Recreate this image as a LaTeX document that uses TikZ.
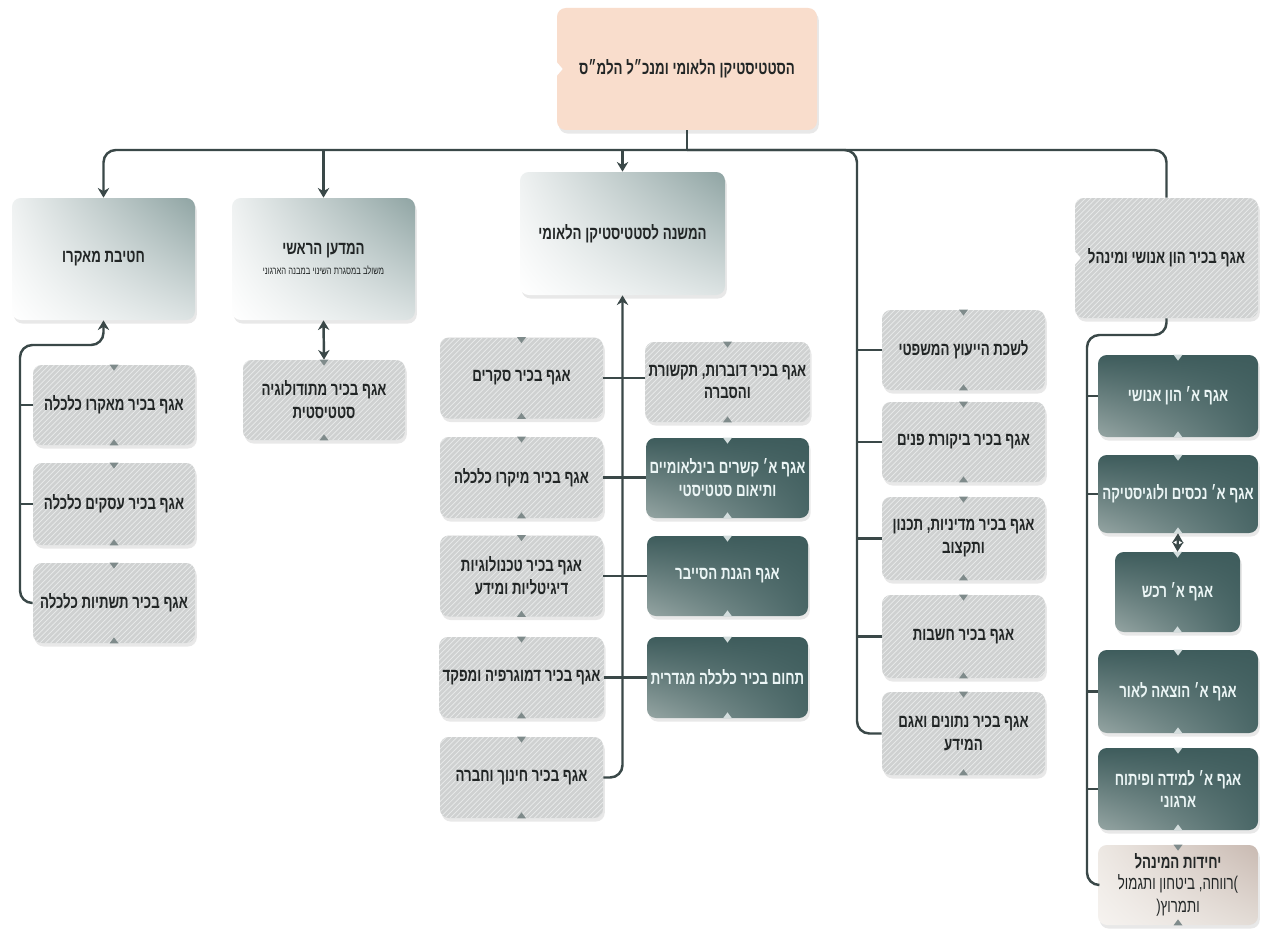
\documentclass[tikz,border=0pt]{standalone}
\usepackage{fontspec}
\usetikzlibrary{shadows,patterns,shadings,calc,arrows.meta}
\TeXXeTstate=1
\newfontfamily\hebf[Script=Hebrew,FakeStretch=0.72]{Liberation Sans}
\newcommand\heR[1]{\beginR#1\endR}
\newcommand\heM[1]{{\mdseries\beginR#1\endR}}
\definecolor{peach}{HTML}{F9DDCC}
\definecolor{boxgray}{HTML}{CFD1D1}
\definecolor{hatch}{HTML}{E9EBEB}
\definecolor{tealdk}{HTML}{3E5C5C}
\definecolor{tealmd}{HTML}{4A6767}
\definecolor{teallt}{HTML}{95A5A3}
\definecolor{conncol}{HTML}{3A4848}
\definecolor{txt}{HTML}{222626}
\definecolor{lvlA}{HTML}{EEF1F1}
\definecolor{lvlB}{HTML}{8FA4A3}
\definecolor{lvlC}{HTML}{DCE3E3}
\definecolor{lvlD}{HTML}{FFFFFF}
\definecolor{begA}{HTML}{EDE8E3}
\definecolor{begB}{HTML}{C9BAB2}
\definecolor{begC}{HTML}{E3DCD6}
\definecolor{begD}{HTML}{F6F3F0}
\definecolor{notchg}{HTML}{7F8B8B}
\definecolor{notchl}{HTML}{D3DDDD}
\tikzset{
  sz/.style 2 args={minimum width=#1*0.02cm, minimum height=#2*0.02cm},
  base/.style={rounded corners=5pt, align=center, inner sep=2pt, text=txt,
    font=\hebf\bfseries\fontsize{10.5}{13}\selectfont,
    drop shadow={opacity=0.18, shadow xshift=1pt, shadow yshift=-2pt}},
  topbox/.style={base, fill=peach},
  lvlbox/.style={base, shade, upper left=lvlA, upper right=lvlB, lower left=lvlD, lower right=lvlC},
  graybox/.style={base, fill=boxgray, postaction={pattern=north east lines, pattern color=hatch}},
  darkbox/.style={base, text=white!92!teal, shade, upper left=tealdk, upper right=tealdk, lower right=tealmd, lower left=teallt},
  beigebox/.style={base, shade, upper left=begA, upper right=begB, lower left=begD, lower right=begC},
  conn/.style={draw=conncol, line width=1.4pt, rounded corners=7pt},
  tipa/.tip={Stealth[length=5.5pt,width=6.5pt]}
}
\newcommand\notchbox[2]{%
  \fill[#2] ($(#1.north)+(-4.5,0)$) -- ($(#1.north)+(4.5,0)$) -- ($(#1.north)+(0,6)$) -- cycle;
  \fill[#2] ($(#1.south)+(-4.5,0)$) -- ($(#1.south)+(4.5,0)$) -- ($(#1.south)+(0,-6)$) -- cycle;}
\begin{document}
\begin{tikzpicture}[x=0.02cm, y=-0.02cm]
\useasboundingbox (0,0) rectangle (1275,936);
\fill[white] (0,0) rectangle (1275,936);

% top and level 2
\node[topbox, sz={260}{122}] (top) at (687,69) {\heR{הסטטיסטיקן הלאומי ומנכ״ל הלמ״ס}};
\node[lvlbox, sz={183}{122}] (macro) at (103.5,259) {\heR{חטיבת מאקרו}};
\node[lvlbox, sz={183}{122}] (chief) at (323.5,259) {\heR{המדען הראשי}\\[-2pt]\fontsize{6}{7}\selectfont\heM{משולב במסגרת השינוי במבנה הארגוני}};
\node[lvlbox, sz={205}{123}] (deputy) at (622.5,233.5) {\heR{המשנה לסטטיסטיקן הלאומי}};
\node[graybox, sz={183}{120}] (hr) at (1166.5,258) {\heR{אגף בכיר הון אנושי ומינהל}};

% macro children
\node[graybox, sz={162}{80}] (c1) at (114,405) {\heR{אגף בכיר מאקרו כלכלה}};
\node[graybox, sz={162}{82}] (c2) at (114,504) {\heR{אגף בכיר עסקים כלכלה}};
\node[graybox, sz={162}{80}] (c3) at (114,603) {\heR{אגף בכיר תשתיות כלכלה}};
% chief scientist child
\node[graybox, sz={162}{80}] (meth) at (324,400) {\heR{אגף בכיר מתודולוגיה}\\\heR{סטטיסטית}};

% deputy children, left
\node[graybox, sz={163}{81}] (l1) at (521.5,378) {\heR{אגף בכיר סקרים}};
\node[graybox, sz={163}{81}] (l2) at (521.5,477.5) {\heR{אגף בכיר מיקרו כלכלה}};
\node[graybox, sz={163}{81}] (l3) at (521.5,576) {\heR{אגף בכיר טכנולוגיות}\\\heR{דיגיטליות ומידע}};
\node[graybox, sz={163}{81}] (l4) at (521.5,677.5) {\heR{אגף בכיר דמוגרפיה ומפקד}};
\node[graybox, sz={163}{81}] (l5) at (521.5,777.5) {\heR{אגף בכיר חינוך וחברה}};
% deputy children, right
\node[graybox, sz={161}{80}] (r1) at (727.5,382) {\heR{אגף בכיר דוברות, תקשורת}\\\heR{והסברה}};
\node[darkbox, sz={161}{80}] (r2) at (727.5,478) {\heR{אגף א׳ קשרים בינלאומיים}\\\heR{ותיאום סטטיסטי}};
\node[darkbox, sz={161}{80}] (r3) at (727.5,576) {\heR{אגף הגנת הסייבר}};
\node[darkbox, sz={161}{81}] (r4) at (727.5,677.5) {\heR{תחום בכיר כלכלה מגדרית}};

% middle column
\node[graybox, sz={163}{80}] (m1) at (963.5,350) {\heR{לשכת הייעוץ המשפטי}};
\node[graybox, sz={163}{80}] (m2) at (963.5,442) {\heR{אגף בכיר ביקורת פנים}};
\node[graybox, sz={163}{83}] (m3) at (963.5,538.5) {\heR{אגף בכיר מדיניות, תכנון}\\\heR{ותקצוב}};
\node[graybox, sz={163}{83}] (m4) at (963.5,636.5) {\heR{אגף בכיר חשבות}};
\node[graybox, sz={163}{83}] (m5) at (963.5,733.5) {\heR{אגף בכיר נתונים ואגם}\\\heR{המידע}};

% HR children
\node[darkbox, sz={160}{82}] (h1) at (1178,396) {\heR{אגף א׳ הון אנושי}};
\node[darkbox, sz={160}{78}] (h2) at (1178,494) {\heR{אגף א׳ נכסים ולוגיסטיקה}};
\node[darkbox, sz={125}{80}] (h3) at (1177.5,592) {\heR{אגף א׳ רכש}};
\node[darkbox, sz={160}{83}] (h4) at (1178,691.5) {\heR{אגף א׳ הוצאה לאור}};
\node[darkbox, sz={160}{82}] (h5) at (1178,789) {\heR{אגף א׳ למידה ופיתוח}\\\heR{ארגוני}};
\node[beigebox, sz={160}{80}] (h6) at (1178,885) {\heR{יחידות המינהל}\\[-1pt]\heM{)רווחה, ביטחון ותגמול}\\\heM{ותמרוץ(}};

% notches
\foreach \n in {c1,c2,c3,meth,l1,l2,l3,l4,l5,r1,m1,m2,m3,m4,m5,h6}{\notchbox{\n}{notchg}}
\foreach \n in {r2,r3,r4,h1,h2,h3,h4,h5}{\notchbox{\n}{notchl}}
\fill[white] ($(top.west)+(0,-7)$) -- ($(top.west)+(6,0)$) -- ($(top.west)+(0,7)$) -- cycle;
\fill[white] ($(hr.west)+(0,-7)$) -- ($(hr.west)+(6,0)$) -- ($(hr.west)+(0,7)$) -- cycle;

% bus
\coordinate (bus) at (687,150);
\coordinate (mtr) at (857,150);
\coordinate (mk) at (20,345);
\coordinate (hk) at (1087,335);
\draw[conn] (top.south) -- (bus);
\draw[conn,-tipa] (bus) -| (macro.north);
\draw[conn,-tipa] (chief.north |- bus) -- (chief.north);
\draw[conn,-tipa] (deputy.north |- bus) -- (deputy.north);
\draw[conn] (bus) -| (hr.north);
\draw[conn] (bus) -| (m5.west -| mtr) -- (m5.west);
\foreach \n in {m1,m2,m3,m4}{\draw[conn] (\n.west -| mtr) -- (\n.west);}

% macro subtree
\draw[conn,tipa-] (macro.south) |- (mk) -- (mk |- c3.west) -- (c3.west);
\foreach \n in {c1,c2}{\draw[conn] (\n.west -| mk) -- (\n.west);}

% chief
\draw[conn,tipa-tipa] (chief.south) -- (meth.north);

% deputy
\draw[conn,tipa-] (deputy.south) -- (deputy.south |- l5.east) -- (l5.east);
\draw[conn] (l1.east) -- (l1.east -| r1.west);
\draw[conn] (l2.east) -- (l2.east -| r2.west);
\draw[conn] (l3.east) -- (l3.east -| r3.west);
\draw[conn] (l4.east) -- (l4.east -| r4.west);

% HR subtree
\draw[conn] (hr.south) |- (hk) -- (hk |- h6.west) -- (h6.west);
\foreach \n in {h1,h2,h4,h5}{\draw[conn] (\n.west -| hk) -- (\n.west);}
\draw[conn,tipa-tipa] (h2.south) -- (h3.north);
\end{tikzpicture}
\end{document}
